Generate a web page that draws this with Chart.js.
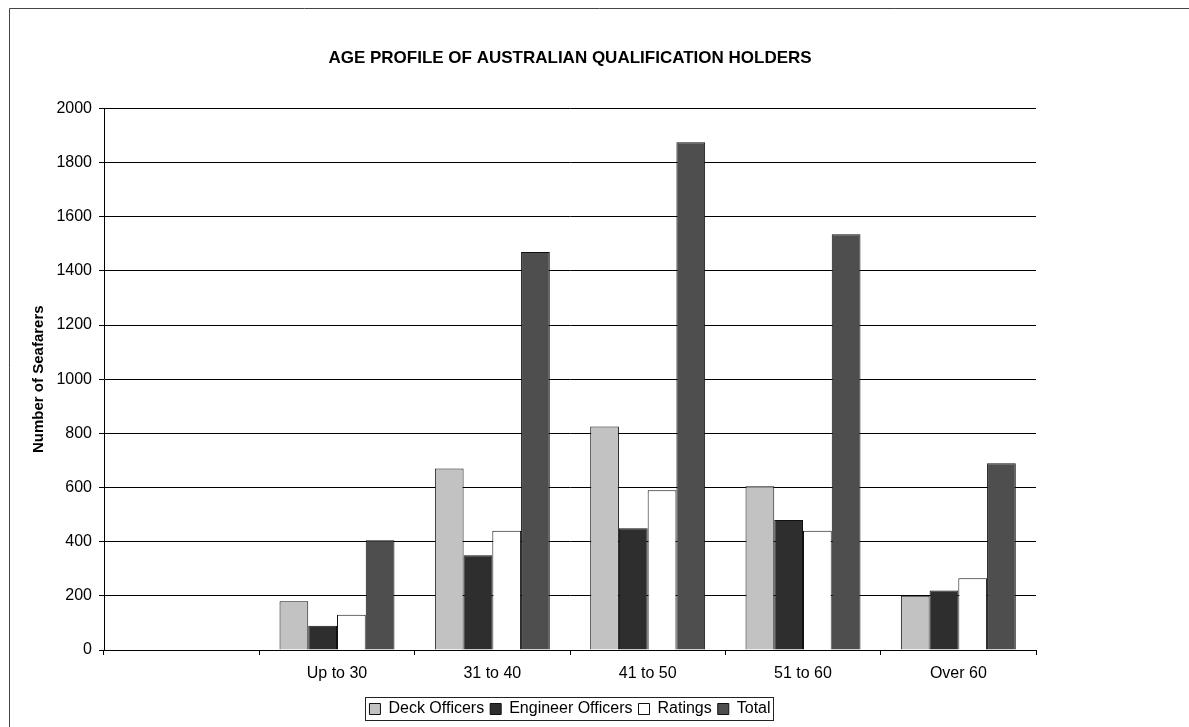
<!DOCTYPE html>
<html>
<head>
<meta charset="utf-8">
<script src="https://cdn.jsdelivr.net/npm/chart.js@4"></script>
<style>
  body { margin: 0; background: #fff; }
  #wrap { width: 1189px; height: 727px; }
</style>
</head>
<body>
<div id="wrap"><canvas id="myChart" width="1189" height="727"></canvas></div>
<script>
const categories = ["", "Up to 30", "31 to 40", "41 to 50", "51 to 60", "Over 60"];
const deckOfficers = [null, 180, 670, 825, 605, 200];
const engineerOfficers = [null, 90, 350, 450, 480, 220];
const ratings = [null, 130, 440, 590, 440, 265];
const total = [null, 405, 1470, 1875, 1535, 690];
const yTicks = [0, 200, 400, 600, 800, 1000, 1200, 1400, 1600, 1800, 2000];

const FONT = 'Liberation Sans, Arial, sans-serif';

// рамка слева и сверху + рамка вокруг легенды
const framePlugin = {
    id: 'frame',
    afterDraw(chart) {
        const c = chart.ctx;
        c.save();
        c.strokeStyle = '#444';
        c.lineWidth = 1;
        c.beginPath();
        c.moveTo(9.5, 727);
        c.lineTo(9.5, 8.5);
        c.lineTo(1189, 8.5);
        c.stroke();
        const lg = chart.legend;
        if (lg && lg.legendHitBoxes.length) {
            let minX = Infinity, maxX = -Infinity, minY = Infinity, maxY = -Infinity;
            lg.legendHitBoxes.forEach(b => {
                minX = Math.min(minX, b.left); maxX = Math.max(maxX, b.left + b.width);
                minY = Math.min(minY, b.top); maxY = Math.max(maxY, b.top + b.height);
            });
            c.strokeStyle = '#222';
            c.strokeRect(Math.round(minX) - 3.5, Math.round(minY) - 3.5,
                Math.round(maxX - minX) + 7, Math.round(maxY - minY) + 7);
        }
        c.restore();
    }
};

const ctx = document.getElementById('myChart').getContext('2d');
const myChart = new Chart(ctx, {
    type: 'bar',
    data: {
        labels: categories,
        datasets: [
            { label: 'Deck Officers', data: deckOfficers, backgroundColor: '#c2c2c2' },
            { label: 'Engineer Officers', data: engineerOfficers, backgroundColor: '#2e2e2e' },
            { label: 'Ratings', data: ratings, backgroundColor: '#ffffff' },
            { label: 'Total', data: total, backgroundColor: '#4e4e4e' },
        ].map(d => Object.assign(d, { borderColor: '#111', borderWidth: 1 })),
    },
    plugins: [framePlugin],
    options: {
        responsive: false,
        animation: false,
        categoryPercentage: 0.74,
        barPercentage: 1.0,
        layout: { padding: { left: 26, right: 153, top: 0, bottom: 0 } },
        plugins: {
            title: {
                display: true,
                fullSize: false,
                text: 'AGE PROFILE OF AUSTRALIAN QUALIFICATION HOLDERS',
                color: '#000',
                font: { family: FONT, size: 17, weight: 'bold' },
                padding: { top: 48, bottom: 40 },
            },
            legend: {
                position: 'bottom',
                fullSize: false,
                labels: {
                    color: '#000',
                    font: { family: FONT, size: 16 },
                    boxWidth: 11,
                    boxHeight: 11,
                    padding: 6,
                },
            },
            tooltip: { enabled: false },
        },
        scales: {
            x: {
                grid: {
                    display: true,
                    drawOnChartArea: false,
                    color: '#000',
                    tickLength: 5,
                },
                border: { color: '#000' },
                ticks: {
                    color: '#000',
                    font: { family: FONT, size: 16 },
                    padding: 9,
                },
                afterFit(scale) { scale.height = 45; },
            },
            y: {
                min: 0,
                max: 2000,
                afterBuildTicks(scale) { scale.ticks = yTicks.map(v => ({ value: v })); },
                ticks: {
                    color: '#000',
                    font: { family: FONT, size: 16 },
                    padding: 7,
                    callback: v => String(v),
                },
                grid: { color: '#000', tickLength: 5 },
                border: { color: '#000' },
                title: {
                    display: true,
                    text: 'Number of Seafarers',
                    color: '#000',
                    font: { family: FONT, size: 15, weight: 'bold' },
                    padding: 4,
                },
                afterFit(scale) { scale.width = 78; },
            },
        },
    },
});
</script>
</body>
</html>
